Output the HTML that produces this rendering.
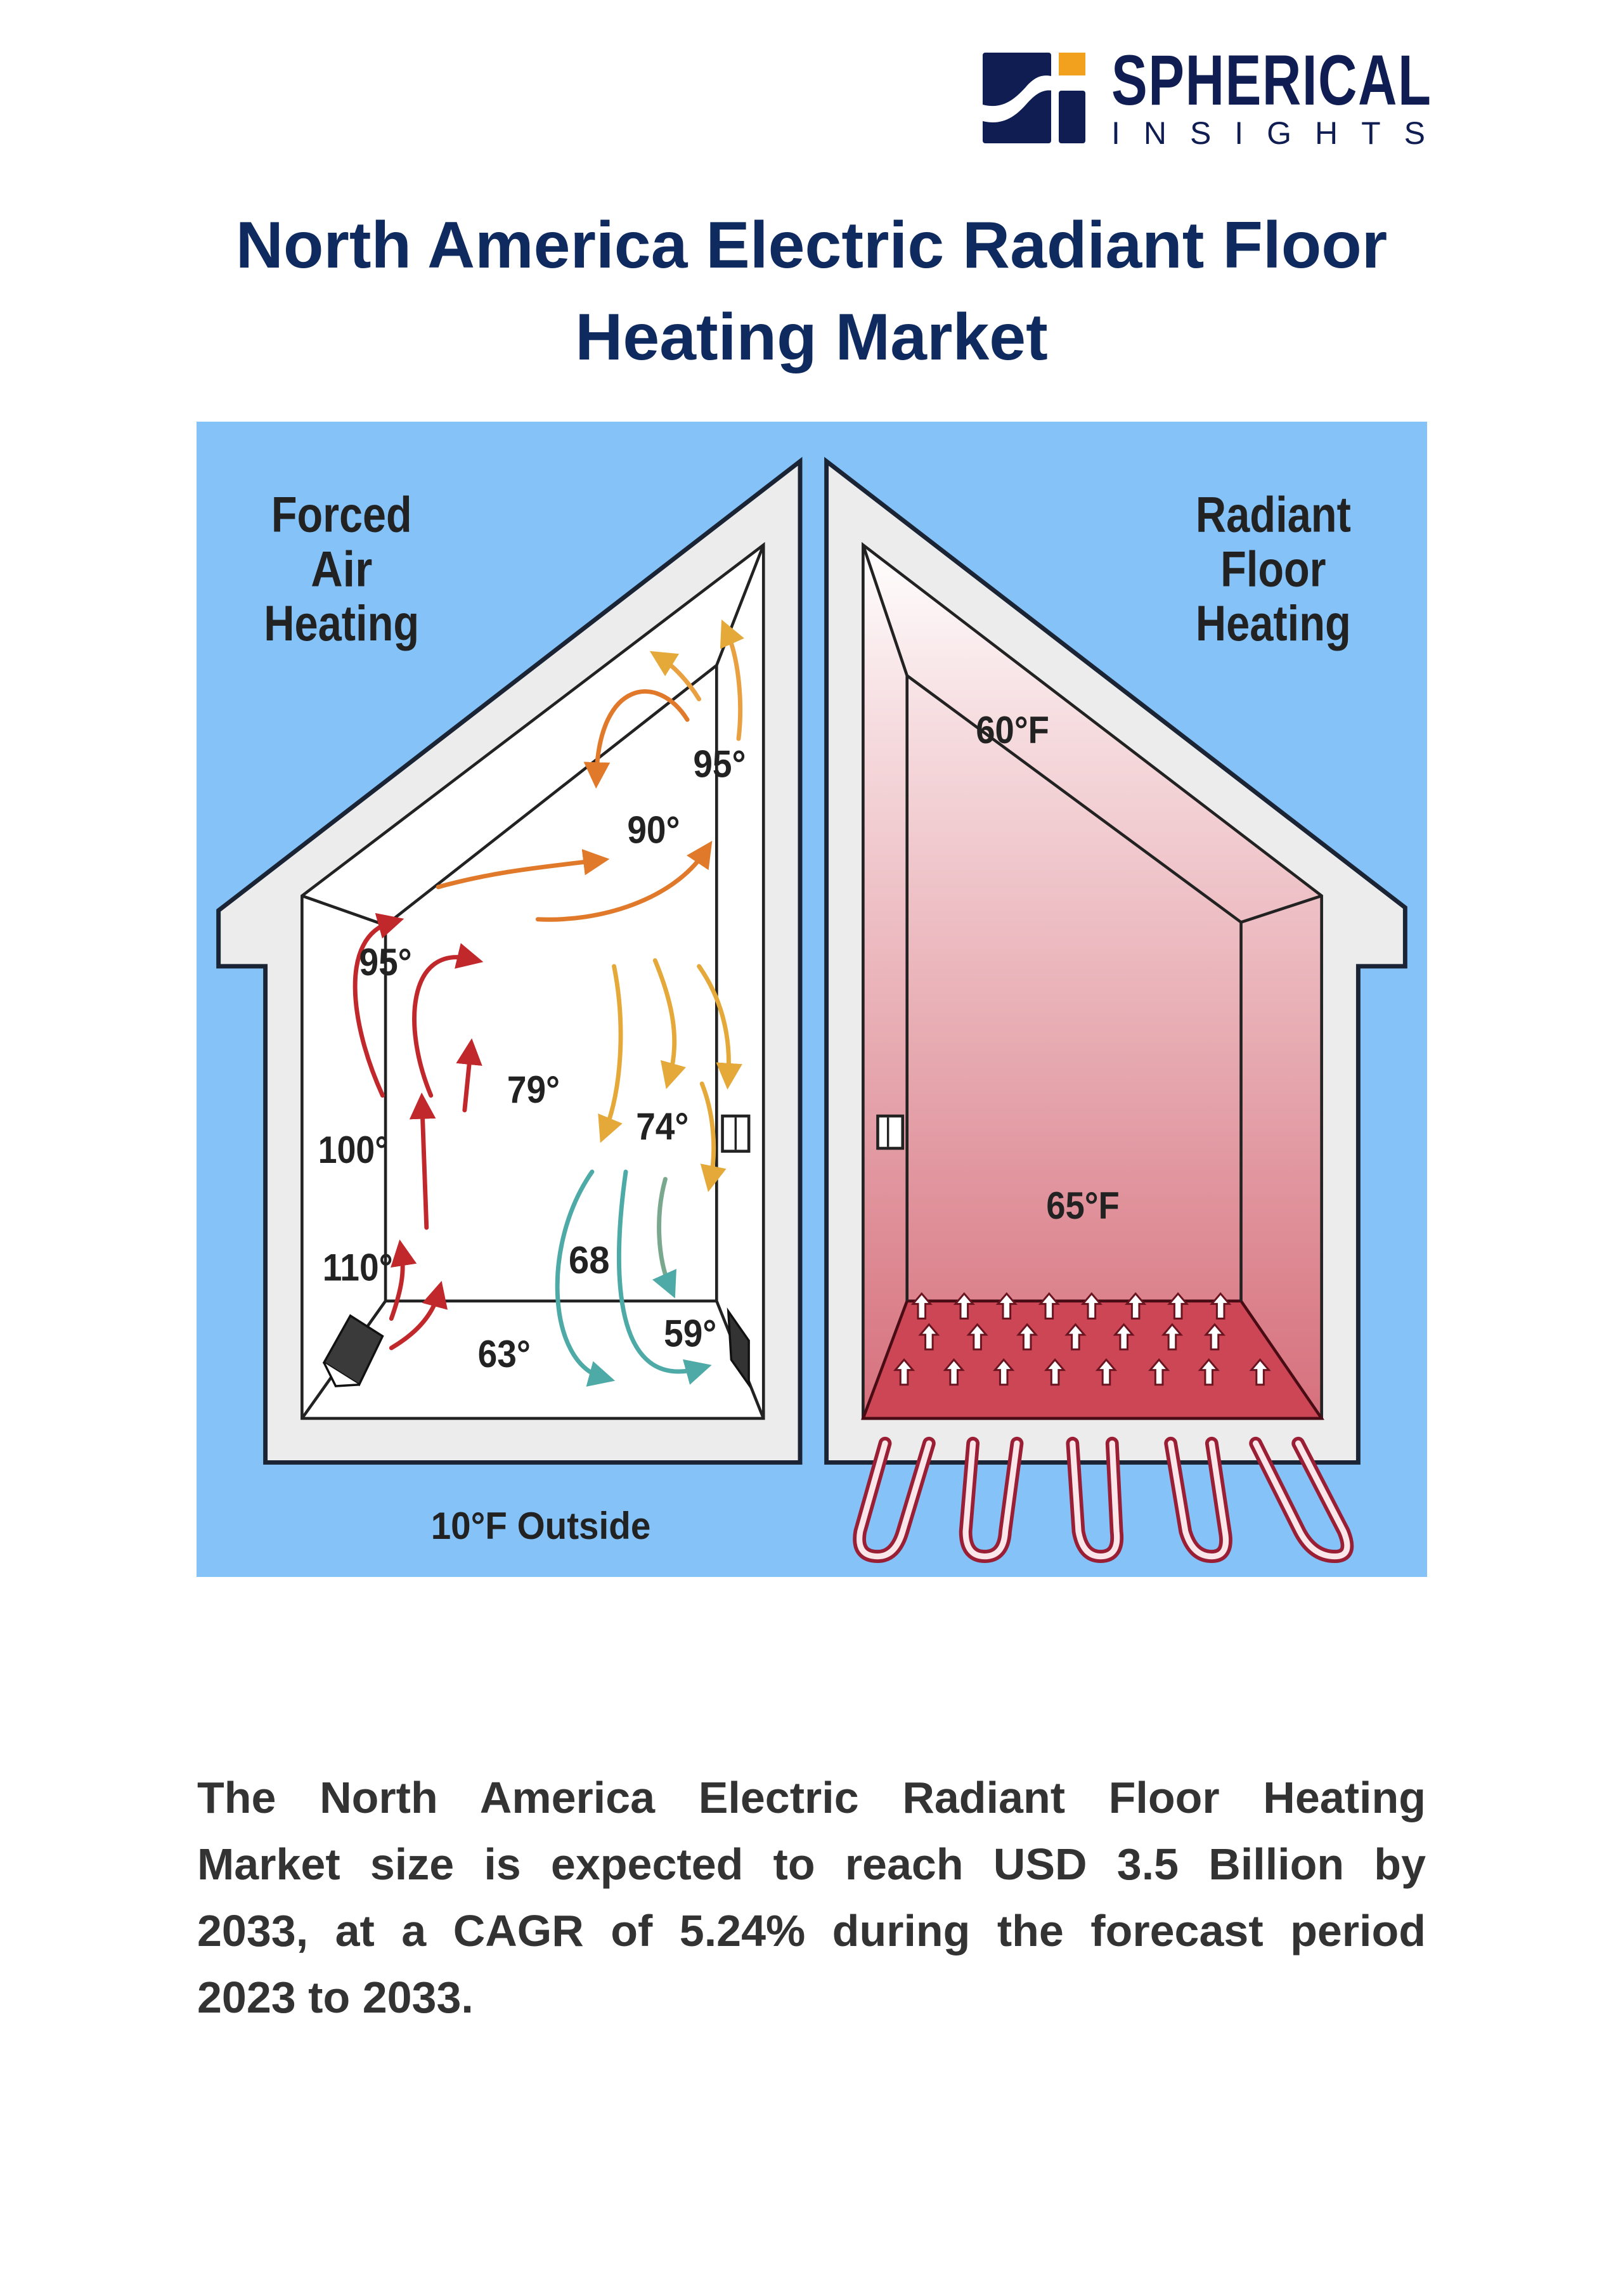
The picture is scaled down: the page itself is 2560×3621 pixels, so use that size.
<!DOCTYPE html>
<html><head><meta charset="utf-8"><style>
html,body{margin:0;padding:0;background:#fff;}
body{width:2560px;height:3621px;position:relative;overflow:hidden;font-family:"Liberation Sans",sans-serif;}
.t{position:absolute;left:0;width:2560px;text-align:center;color:#0e2a5e;font-weight:bold;font-size:104px;line-height:104px;}
.p{position:absolute;left:311px;width:1938px;color:#333;font-weight:bold;font-size:70px;line-height:70px;text-align:justify;text-align-last:justify;white-space:nowrap;}
.p.l{text-align-last:left;}
</style></head><body>
<svg style="position:absolute;left:1550px;top:83px" width="162" height="143" viewBox="0 0 162 143">
<rect x="0" y="0" width="108" height="143" rx="4" fill="#0f1d52"/>
<rect x="120" y="0" width="42" height="36" fill="#f2a11e"/>
<rect x="120" y="60" width="42" height="83" rx="4" fill="#0f1d52"/>
<path d="M0 82 C30 90 50 75 70 52 C90 30 105 36 120 40 L120 62 C100 56 88 60 70 80 C50 103 30 115 0 108 Z" fill="#fff"/>
</svg>
<div style="position:absolute;left:1753px;top:62px;font-size:112px;font-weight:bold;color:#0f1d52;letter-spacing:2px;transform:scaleX(0.76);transform-origin:left;">SPHERICAL</div>
<div style="position:absolute;left:1753px;top:185px;width:495px;font-size:50px;color:#0f1d52;display:flex;justify-content:space-between;line-height:50px;"><span>I</span><span>N</span><span>S</span><span>I</span><span>G</span><span>H</span><span>T</span><span>S</span></div>
<div class="t" style="top:335px;">North America Electric Radiant Floor</div>
<div class="t" style="top:480px;">Heating Market</div>

<svg style="position:absolute;left:310px;top:665px" width="1941" height="1822" viewBox="135 289 840 787" preserveAspectRatio="none">
<defs>
<linearGradient id="pk" x1="0" y1="0" x2="0" y2="1"><stop offset="0" stop-color="#fff"/><stop offset="0.2" stop-color="#f6dde0"/><stop offset="1" stop-color="#d6707c"/></linearGradient>
<marker id="mr" markerWidth="6" markerHeight="6" refX="3" refY="3" orient="auto" markerUnits="strokeWidth"><path d="M0,0 L6,3 L0,6 Z" fill="#c0282c"/></marker>
<marker id="mo" markerWidth="6" markerHeight="6" refX="3" refY="3" orient="auto" markerUnits="strokeWidth"><path d="M0,0 L6,3 L0,6 Z" fill="#e07a2a"/></marker>
<marker id="my" markerWidth="6" markerHeight="6" refX="3" refY="3" orient="auto" markerUnits="strokeWidth"><path d="M0,0 L6,3 L0,6 Z" fill="#e5a93a"/></marker>
<marker id="mg" markerWidth="6" markerHeight="6" refX="3" refY="3" orient="auto" markerUnits="strokeWidth"><path d="M0,0 L6,3 L0,6 Z" fill="#4eaaa6"/></marker>
<g id="ua"><path d="M0,-9 L6,-2 L2.5,-2 L2.5,8 L-2.5,8 L-2.5,-2 L-6,-2 Z" fill="#fff" stroke="#6a1420" stroke-width="1.3"/></g>
</defs>
<rect x="135" y="289" width="840" height="787" fill="#84c2f7"/>
<path d="M150,622 L547,316 L547,998 L182,998 L182,660 L150,660 Z" fill="#ececec" stroke="#1a2434" stroke-width="3"/>
<path d="M207,612 L522,373 L522,968 L207,968 Z" fill="#fff" stroke="#222" stroke-width="2"/>
<path d="M207,612 L264,632 L490,455 L522,373 M490,455 L490,888 L264,888 L264,632 M207,968 L264,888 M522,968 L490,888" fill="none" stroke="#222" stroke-width="2"/>
<path d="M565,316 L960,620 L960,660 L928,660 L928,998 L565,998 Z" fill="#ececec" stroke="#1a2434" stroke-width="3"/>
<path d="M590,373 L903,612 L903,968 L590,968 Z" fill="url(#pk)" stroke="#222" stroke-width="2"/>
<path d="M590,968 L620,888 L848,888 L903,968 Z" fill="#cc4656" stroke="#4a0c14" stroke-width="2"/>
<path d="M590,373 L620,462 L848,630 L903,612 M620,462 L620,888 M848,630 L848,888" fill="none" stroke="#222" stroke-width="2"/>
<g fill="none" stroke-linecap="round">
<g stroke="#9a1e34" stroke-width="9">
<path d="M605,985 L588,1045 Q585,1062 600,1062 Q612,1062 617,1045 L635,985"/>
<path d="M665,985 L660,1045 Q660,1062 673,1062 Q686,1062 687,1045 L695,985"/>
<path d="M733,985 L737,1045 Q740,1062 752,1062 Q765,1062 763,1045 L760,985"/>
<path d="M800,985 L810,1045 Q815,1062 828,1062 Q840,1062 837,1045 L828,985"/>
<path d="M858,985 L888,1045 Q897,1062 912,1062 Q925,1062 918,1045 L887,985"/>
</g>
<g stroke="#fbe6ea" stroke-width="4">
<path d="M605,985 L588,1045 Q585,1062 600,1062 Q612,1062 617,1045 L635,985"/>
<path d="M665,985 L660,1045 Q660,1062 673,1062 Q686,1062 687,1045 L695,985"/>
<path d="M733,985 L737,1045 Q740,1062 752,1062 Q765,1062 763,1045 L760,985"/>
<path d="M800,985 L810,1045 Q815,1062 828,1062 Q840,1062 837,1045 L828,985"/>
<path d="M858,985 L888,1045 Q897,1062 912,1062 Q925,1062 918,1045 L887,985"/>
</g>
</g>
<g>
<use href="#ua" x="630" y="892"/><use href="#ua" x="659" y="892"/><use href="#ua" x="688" y="892"/><use href="#ua" x="717" y="892"/><use href="#ua" x="746" y="892"/><use href="#ua" x="776" y="892"/><use href="#ua" x="805" y="892"/><use href="#ua" x="834" y="892"/>
<use href="#ua" x="635" y="913"/><use href="#ua" x="668" y="913"/><use href="#ua" x="702" y="913"/><use href="#ua" x="735" y="913"/><use href="#ua" x="768" y="913"/><use href="#ua" x="801" y="913"/><use href="#ua" x="830" y="913"/>
<use href="#ua" x="618" y="937"/><use href="#ua" x="652" y="937"/><use href="#ua" x="686" y="937"/><use href="#ua" x="721" y="937"/><use href="#ua" x="756" y="937"/><use href="#ua" x="792" y="937"/><use href="#ua" x="826" y="937"/><use href="#ua" x="861" y="937"/>
</g>
<rect x="494" y="762" width="18" height="24" fill="#fff" stroke="#222" stroke-width="2"/><line x1="503" y1="763" x2="503" y2="785" stroke="#222" stroke-width="1.5"/>
<rect x="600" y="762" width="17" height="22" fill="#fff" stroke="#222" stroke-width="2"/><line x1="607" y1="763" x2="607" y2="783" stroke="#222" stroke-width="1.5"/>
<path d="M222,930 L240,898 L262,912 L246,945 Z" fill="#3a3a3a" stroke="#111" stroke-width="1.5"/><path d="M222,930 L230,946 L246,945" fill="#fff" stroke="#111" stroke-width="1.5"/>
<path d="M498,895 L512,915 L512,945 L500,928 Z" fill="#333" stroke="#111" stroke-width="1.5"/>
<g fill="none" stroke-width="3" stroke-linecap="round">
<path d="M262,748 C240,700 232,640 268,630" stroke="#c0282c" marker-end="url(#mr)"/>
<path d="M295,748 C275,700 280,645 322,655" stroke="#c0282c" marker-end="url(#mr)"/>
<path d="M318,758 L322,718" stroke="#c0282c" marker-end="url(#mr)"/>
<path d="M292,838 L289,755" stroke="#c0282c" marker-end="url(#mr)"/>
<path d="M268,900 C275,880 277,868 275,855" stroke="#c0282c" marker-end="url(#mr)"/>
<path d="M268,920 C285,910 296,898 300,883" stroke="#c0282c" marker-end="url(#mr)"/>
<path d="M300,606 C340,595 375,592 408,588" stroke="#e07a2a" marker-end="url(#mo)"/>
<path d="M368,628 C410,630 460,615 482,582" stroke="#e07a2a" marker-end="url(#mo)"/>
<path d="M470,492 C450,460 410,465 408,530" stroke="#e07a2a" marker-end="url(#mo)"/>
<path d="M478,478 C470,465 460,455 452,450" stroke="#e8a040" marker-end="url(#my)"/>
<path d="M505,505 C508,480 505,450 497,432" stroke="#e8a040" marker-end="url(#my)"/>
<path d="M420,660 C428,700 425,745 414,772" stroke="#e5a93a" marker-end="url(#my)"/>
<path d="M448,656 C460,685 465,710 458,735" stroke="#e5a93a" marker-end="url(#my)"/>
<path d="M478,660 C492,680 500,705 498,735" stroke="#e5a93a" marker-end="url(#my)"/>
<path d="M480,740 C488,760 490,785 486,805" stroke="#e5a93a" marker-end="url(#my)"/>
<path d="M405,800 C370,850 375,930 412,940" stroke="#4eaaa6" marker-end="url(#mg)"/>
<path d="M428,800 C418,870 420,950 478,934" stroke="#4eaaa6" marker-end="url(#mg)"/>
<path d="M455,805 C448,830 450,860 458,878" stroke="#7aa88e" marker-end="url(#mg)"/>
</g>
<g font-family="'Liberation Sans Narrow','Liberation Sans',sans-serif" font-weight="bold" fill="#222" text-anchor="middle">
<g font-size="34" lengthAdjust="spacingAndGlyphs">
<text x="234" y="364" textLength="96" lengthAdjust="spacingAndGlyphs">Forced</text><text x="234" y="401" textLength="42" lengthAdjust="spacingAndGlyphs">Air</text><text x="234" y="438" textLength="106" lengthAdjust="spacingAndGlyphs">Heating</text>
<text x="870" y="364" textLength="106" lengthAdjust="spacingAndGlyphs">Radiant</text><text x="870" y="401" textLength="72" lengthAdjust="spacingAndGlyphs">Floor</text><text x="870" y="438" textLength="106" lengthAdjust="spacingAndGlyphs">Heating</text></g>
<g font-size="26">
<text x="492" y="531" textLength="36" lengthAdjust="spacingAndGlyphs">95°</text><text x="447" y="576" textLength="36" lengthAdjust="spacingAndGlyphs">90°</text><text x="264" y="666" textLength="36" lengthAdjust="spacingAndGlyphs">95°</text><text x="365" y="753" textLength="36" lengthAdjust="spacingAndGlyphs">79°</text>
<text x="453" y="778" textLength="36" lengthAdjust="spacingAndGlyphs">74°</text><text x="242" y="794" textLength="48" lengthAdjust="spacingAndGlyphs">100°</text><text x="245" y="874" textLength="48" lengthAdjust="spacingAndGlyphs">110°</text><text x="403" y="869" textLength="28" lengthAdjust="spacingAndGlyphs">68</text>
<text x="345" y="933" textLength="36" lengthAdjust="spacingAndGlyphs">63°</text><text x="472" y="919" textLength="36" lengthAdjust="spacingAndGlyphs">59°</text><text x="370" y="1050" textLength="150" lengthAdjust="spacingAndGlyphs">10°F Outside</text>
<text x="692" y="508" textLength="50" lengthAdjust="spacingAndGlyphs">60°F</text><text x="740" y="832" textLength="50" lengthAdjust="spacingAndGlyphs">65°F</text></g>
</g>
</svg>

<div class="p" style="top:2800px;">The North America Electric Radiant Floor Heating</div>
<div class="p" style="top:2905px;">Market size is expected to reach USD 3.5 Billion by</div>
<div class="p" style="top:3010px;">2033, at a CAGR of 5.24% during the forecast period</div>
<div class="p l" style="top:3115px;">2023 to 2033.</div>
</body></html>
